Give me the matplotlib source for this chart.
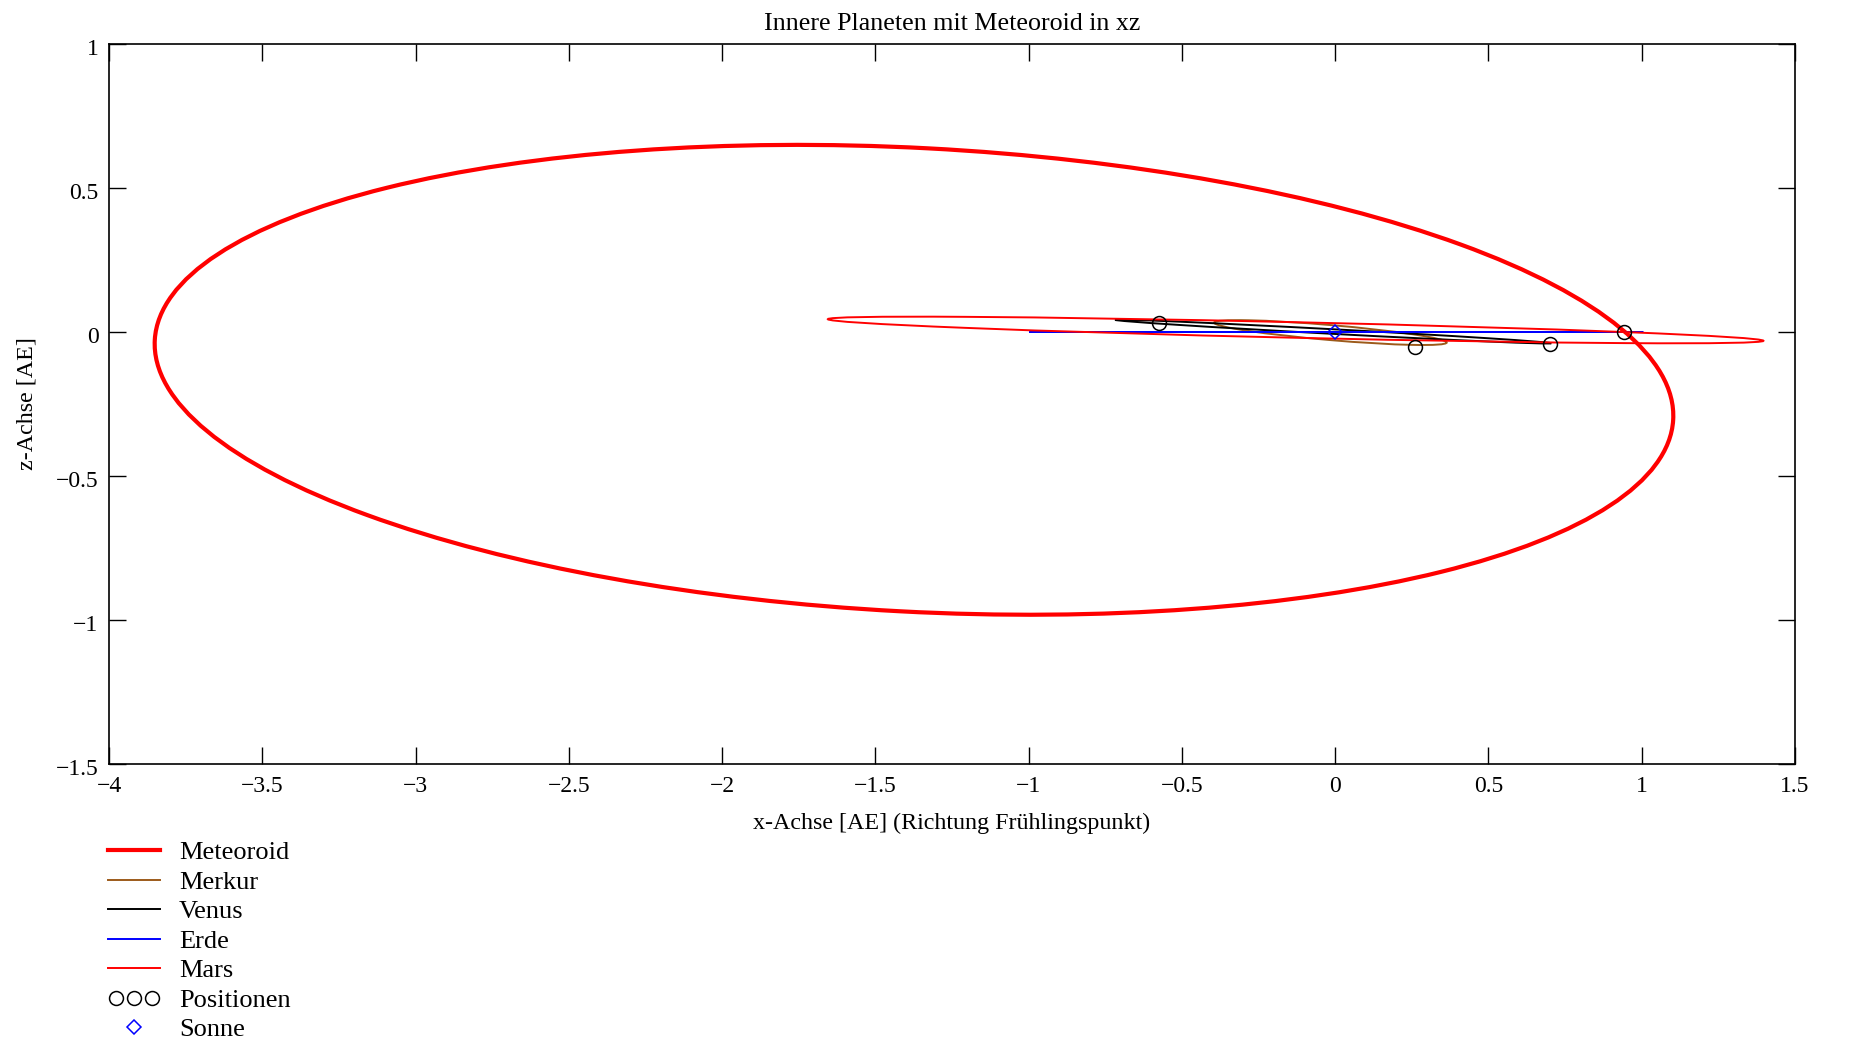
import matplotlib
matplotlib.use('Agg')
import matplotlib.pyplot as plt
import matplotlib.transforms as mtransforms
from matplotlib.patches import Ellipse
from matplotlib.lines import Line2D
from matplotlib.legend_handler import HandlerLine2D
from matplotlib.ticker import FuncFormatter

plt.rcParams['font.family'] = ['Liberation Serif', 'DejaVu Serif']
plt.rcParams['axes.unicode_minus'] = True

# Bahnen in der xz-Ebene (Projektion = Ellipse)
bahn_namen = ['Meteoroid', 'Merkur', 'Venus', 'Erde', 'Mars']
bahn_mitte_x = [-1.374, -0.0155, -0.0065, 0.0035, -0.129]
bahn_mitte_z = [-0.166, -0.002, 0.0015, 0.0, 0.007]
bahn_breite = [4.961, 0.762, 1.425, 2.003, 3.053]
bahn_hoehe = [1.610, 0.052, 0.016, 0.0, 0.054]
bahn_winkel = [-3.22, -5.2, -3.27, 0.0, -1.41]

# aktuelle Positionen
pos_x = [-0.574, 0.261, 0.701, 0.943]
pos_z = [0.030, -0.051, -0.042, 0.0]

sonne_x = [0.0]
sonne_z = [0.0]

x_ticks = [-4, -3.5, -3, -2.5, -2, -1.5, -1, -0.5, 0, 0.5, 1, 1.5]
z_ticks = [-1.5, -1, -0.5, 0, 0.5, 1]

farben = ['#ff0000', '#9c5a1a', '#000000', '#0000ff', '#ff0000']
breiten = [3.0, 1.4, 1.4, 1.4, 1.4]

W, H = 1850, 1043
fig = plt.figure(figsize=(W / 100, H / 100), dpi=100)
ax = fig.add_axes([109 / W, 1 - 764 / H, 1686 / W, 720 / H])

handles = []
for name, cx, cz, w, h, ang, col, lw in zip(bahn_namen, bahn_mitte_x, bahn_mitte_z,
                                             bahn_breite, bahn_hoehe, bahn_winkel,
                                             farben, breiten):
    ax.add_patch(Ellipse((cx, cz), w, h, angle=ang, fill=False,
                         edgecolor=col, lw=lw))
    handles.append(Line2D([], [], color=col, lw=lw))

ax.plot(pos_x, pos_z, ls='none', marker='o', ms=10, mfc='none', mec='k', mew=1.1)
ax.plot(sonne_x, sonne_z, ls='none', marker='D', ms=7, mfc='none', mec='#0000ff', mew=1.1)

h_pos = Line2D([], [], ls='none', marker='o', ms=10, mfc='none', mec='k', mew=1.1)
h_sonne = Line2D([], [], ls='none', marker='D', ms=7, mfc='none', mec='#0000ff', mew=1.1)
handles += [h_pos, h_sonne]
labels = bahn_namen + ['Positionen', 'Sonne']

ax.set_xlim(-4, 1.5)
ax.set_ylim(-1.5, 1)
ax.set_xticks(x_ticks)
ax.set_yticks(z_ticks)
fmt = FuncFormatter(lambda v, _: f'{v:g}'.replace('-', '\u2212'))
ax.xaxis.set_major_formatter(fmt)
ax.yaxis.set_major_formatter(fmt)
ax.tick_params(direction='in', length=12, width=1.0, top=True, right=True,
               labelsize=17)
ax.tick_params(axis='x', pad=8.5)
ax.tick_params(axis='y', pad=7.5)
for s in ax.spines.values():
    s.set_linewidth(1.2)

# y-Beschriftungen etwas tiefer wie im Original
off = mtransforms.ScaledTranslation(0, -3 / 100, fig.dpi_scale_trans)
for lab in ax.get_yticklabels():
    lab.set_transform(lab.get_transform() + off)

ax.set_title('Innere Planeten mit Meteoroid in xz', fontsize=18.7, pad=10)
ax.set_xlabel('x-Achse [AE] (Richtung Frühlingspunkt)', fontsize=17.3)
ax.xaxis.set_label_coords(0.5, -0.068)
ax.set_ylabel('z-Achse [AE]', fontsize=17.3)
ax.yaxis.set_label_coords((38 - 109) / 1686, 0.5)

fig.legend(handles, labels, loc='upper left', bbox_to_anchor=(108 / W, 1 - 841 / H),
           frameon=False, fontsize=19, handlelength=1.97, handletextpad=0.72,
           labelspacing=0.227, borderpad=0, borderaxespad=0,
           handler_map={h_pos: HandlerLine2D(numpoints=3),
                        h_sonne: HandlerLine2D(numpoints=1)})

fig.savefig('out.png', dpi=100)
